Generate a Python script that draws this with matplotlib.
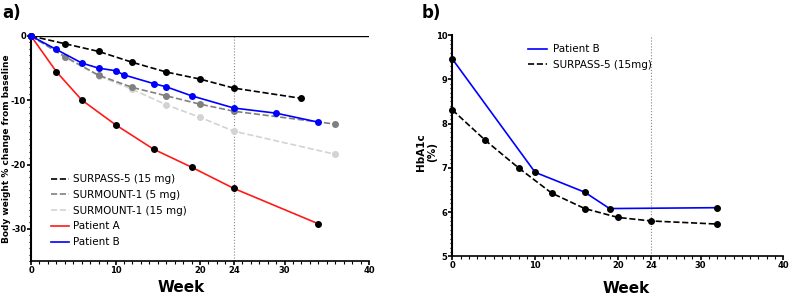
import matplotlib.pyplot as plt
from matplotlib.ticker import MultipleLocator

plt.rcParams['axes.unicode_minus'] = False

# panel a: body weight % change from baseline
surpass_wk = [0, 4, 8, 12, 16, 20, 24, 32]
surpass_bw = [0, -1.2, -2.4, -4.1, -5.6, -6.7, -8.1, -9.7]

surmount5_wk = [0, 4, 8, 12, 16, 20, 24, 36]
surmount5_bw = [0, -3.2, -6.1, -8.0, -9.3, -10.6, -11.7, -13.7]

surmount15_wk = [0, 4, 8, 12, 16, 20, 24, 36]
surmount15_bw = [0, -3.3, -6.2, -8.3, -10.7, -12.65, -14.8, -18.4]

patA_wk = [0, 3, 6, 10, 14.5, 19, 24, 34]
patA_bw = [0, -5.55, -9.95, -13.8, -17.6, -20.4, -23.7, -29.2]

patB_wk = [0, 3, 6, 8, 10, 11, 14.5, 16, 19, 24, 29, 34]
patB_bw = [0, -2.1, -4.2, -5.0, -5.4, -6.05, -7.4, -7.9, -9.3, -11.2, -12.0, -13.4]

# panel b: HbA1c
hb_patB_wk = [0, 10, 16, 19, 32]
hb_patB = [9.46, 6.9, 6.45, 6.08, 6.1]

hb_surpass_wk = [0, 4, 8, 12, 16, 20, 24, 32]
hb_surpass = [8.31, 7.62, 7.0, 6.43, 6.08, 5.88, 5.8, 5.73]

fig = plt.figure(figsize=(7.89, 2.95), dpi=100)
ax1 = fig.add_axes([0.0393, 0.115, 0.4284, 0.763])
ax2 = fig.add_axes([0.5733, 0.131, 0.4195, 0.750])

ms = 4
ax1.plot(surpass_wk, surpass_bw, '--', color='black', lw=1.2, marker='o', ms=ms,
         label='SURPASS-5 (15 mg)', clip_on=False, zorder=3)
ax1.plot(surmount5_wk, surmount5_bw, '--', color='#808080', lw=1.2, marker='o', ms=ms,
         label='SURMOUNT-1 (5 mg)', clip_on=False, zorder=3)
ax1.plot(surmount15_wk, surmount15_bw, '--', color='#d3d3d3', lw=1.2, marker='o', ms=ms,
         label='SURMOUNT-1 (15 mg)', clip_on=False, zorder=2)
ax1.plot(patA_wk, patA_bw, '-', color='#ff1a1a', lw=1.2, marker='o', ms=ms,
         mfc='black', mec='black', label='Patient A', clip_on=False, zorder=4)
ax1.plot(patB_wk, patB_bw, '-', color='#0000ff', lw=1.2, marker='o', ms=ms,
         label='Patient B', clip_on=False, zorder=4)

ax1.axhline(0, color='black', lw=1.0, zorder=1)
ax1.axvline(24, color='#888888', lw=0.8, ls=':', zorder=0)
ax1.set_xlim(0, 40)
ax1.set_ylim(-35, 0)
ax1.set_xticks([0, 10, 20, 24, 30, 40])
ax1.set_yticks([0, -10, -20, -30])
ax1.xaxis.set_minor_locator(MultipleLocator(1))
ax1.yaxis.set_minor_locator(MultipleLocator(1))
ax1.set_ylabel('Body weight % change from baseline', fontsize=6.5, fontweight='bold')
ax1.yaxis.set_label_coords(-0.058, 0.5)
ax1.set_xlabel('Week', fontsize=11, fontweight='bold')
ax1.xaxis.set_label_coords(0.444, -0.082)
leg = ax1.legend(loc='lower left', bbox_to_anchor=(0.03, 0.02), frameon=False, fontsize=7.5,
                 handlelength=1.8, labelspacing=0.55, handletextpad=0.4)
for h in leg.legend_handles:
    h.set_marker('')

ax2.plot(hb_patB_wk, hb_patB, '-', color='#0000ff', lw=1.2, marker='o', ms=ms,
         mfc='black', mec='black', label='Patient B', clip_on=False, zorder=4)
ax2.plot(hb_surpass_wk, hb_surpass, '--', color='black', lw=1.2, marker='o', ms=ms,
         label='SURPASS-5 (15mg)', clip_on=False, zorder=3)
ax2.axvline(24, color='#888888', lw=0.8, ls=':', zorder=0)
ax2.set_xlim(0, 40)
ax2.set_ylim(5, 10)
ax2.set_xticks([0, 10, 20, 24, 30, 40])
ax2.set_yticks([5, 6, 7, 8, 9, 10])
ax2.xaxis.set_minor_locator(MultipleLocator(1))
ax2.yaxis.set_minor_locator(MultipleLocator(0.1))
ax2.set_ylabel('HbA1c\n(%)', fontsize=7.5, fontweight='bold')
ax2.yaxis.set_label_coords(-0.045, 0.47)
ax2.set_xlabel('Week', fontsize=11, fontweight='bold')
ax2.xaxis.set_label_coords(0.526, -0.11)
leg2 = ax2.legend(loc='upper left', bbox_to_anchor=(0.2, 1.0), frameon=False, fontsize=7.5,
                  handlelength=1.8, labelspacing=0.5, handletextpad=0.6)
for h in leg2.legend_handles:
    h.set_marker('')

for ax in (ax1, ax2):
    ax.spines['top'].set_visible(False)
    ax.spines['right'].set_visible(False)
    ax.spines['left'].set_linewidth(1.5)
    ax.spines['bottom'].set_linewidth(1.2)
    ax.tick_params(which='major', direction='out', length=3, width=1.2, labelsize=6, pad=0.5)
    ax.tick_params(which='minor', direction='out', length=1.8, width=0.8)
    for lab in ax.get_xticklabels() + ax.get_yticklabels():
        lab.set_fontweight('bold')

fig.text(0.003, 0.955, 'a)', fontsize=12, fontweight='bold', va='center')
fig.text(0.535, 0.955, 'b)', fontsize=12, fontweight='bold', va='center')

fig.savefig('out.png', dpi=100)
